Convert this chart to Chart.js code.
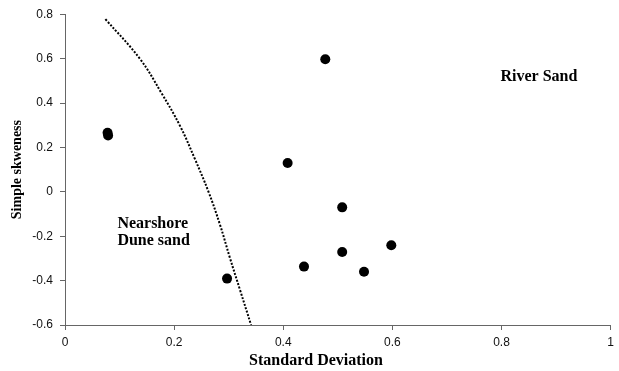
<!DOCTYPE html>
<html>
<head>
<meta charset="utf-8">
<script src="https://cdn.jsdelivr.net/npm/chart.js@4/dist/chart.umd.min.js"></script>
<style>
  html, body { margin: 0; padding: 0; background: #ffffff; }
  #wrap { width: 619px; height: 371px; }
</style>
</head>
<body>
<div id="wrap"><canvas id="c" width="619" height="371"></canvas></div>
<script>
// ---- data ----
const sdValues   = [0.078, 0.079, 0.477, 0.408, 0.508, 0.598, 0.508, 0.438, 0.548, 0.297];
const skewValues = [0.266, 0.254, 0.597, 0.130, -0.070, -0.241, -0.271, -0.337, -0.360, -0.391];

const boundaryX = [0.074, 0.137, 0.177, 0.211, 0.238, 0.263, 0.284, 0.302, 0.321, 0.341];
const boundaryY = [0.778, 0.600, 0.444, 0.296, 0.148, 0.000, -0.148, -0.296, -0.444, -0.600];

const xTicks = [0, 0.2, 0.4, 0.6, 0.8, 1];
const yTicks = [-0.6, -0.4, -0.2, 0, 0.2, 0.4, 0.6, 0.8];

const xTitle = 'Standard Deviation';
const yTitle = 'Simple skweness';

const annotations = [
  { text: 'River Sand', x: 0.798, y: 0.52 },
  { text: 'Nearshore', x: 0.096, y: -0.145 },
  { text: 'Dune sand', x: 0.096, y: -0.222 }
];

// ---- build ----
const points = sdValues.map((v, i) => ({ x: v, y: skewValues[i] }));
const boundary = boundaryX.map((v, i) => ({ x: v, y: boundaryY[i] }));

const textPlugin = {
  id: 'texts',
  afterDraw(chart) {
    const ctx = chart.ctx;
    const xs = chart.scales.x, ys = chart.scales.y;
    const ca = chart.chartArea;
    ctx.save();
    ctx.fillStyle = '#000';
    ctx.font = 'bold 16px "Liberation Serif", "Times New Roman", serif';
    ctx.textBaseline = 'middle';
    ctx.textAlign = 'left';
    annotations.forEach(a => {
      ctx.fillText(a.text, xs.getPixelForValue(a.x), ys.getPixelForValue(a.y));
    });
    // axis titles
    ctx.textAlign = 'center';
    ctx.fillText(xTitle, ca.left + (ca.right - ca.left) * 0.46, 361);
    ctx.font = 'bold 14px "Liberation Serif", "Times New Roman", serif';
    ctx.translate(17, (ca.top + ca.bottom) / 2);
    ctx.rotate(-Math.PI / 2);
    ctx.fillText(yTitle, 0, 0);
    ctx.restore();
  }
};

new Chart(document.getElementById('c'), {
  type: 'scatter',
  data: {
    datasets: [
      {
        label: 'boundary',
        data: boundary,
        showLine: true,
        pointRadius: 0,
        borderColor: '#000',
        borderWidth: 2,
        borderDash: [2, 1.6],
        tension: 0.4,
        fill: false
      },
      {
        label: 'samples',
        data: points,
        pointRadius: 5,
        pointBackgroundColor: '#000',
        pointBorderColor: '#000',
        pointBorderWidth: 0,
        showLine: false
      }
    ]
  },
  options: {
    responsive: false,
    animation: false,
    devicePixelRatio: 1,
    layout: { padding: { top: 10, right: 8, left: 0, bottom: 0 } },
    plugins: { legend: { display: false }, tooltip: { enabled: false }, title: { display: false } },
    scales: {
      x: {
        type: 'linear',
        min: 0, max: 1,
        afterFit: s => { s.height = 46; },
        afterBuildTicks: s => { s.ticks = xTicks.map(v => ({ value: v })); },
        ticks: {
          color: '#111',
          font: { family: '"Liberation Sans", Arial, sans-serif', size: 12 },
          padding: 5,
          maxRotation: 0,
          callback: v => String(v)
        },
        grid: { drawOnChartArea: false, drawTicks: true, tickLength: 5, color: '#666', lineWidth: 1 },
        border: { display: true, color: '#666', width: 1 }
      },
      y: {
        type: 'linear',
        min: -0.6, max: 0.8,
        afterFit: s => { s.width = 65; },
        afterBuildTicks: s => { s.ticks = yTicks.map(v => ({ value: v })); },
        ticks: {
          color: '#111',
          font: { family: '"Liberation Sans", Arial, sans-serif', size: 12 },
          padding: 7,
          callback: v => String(Math.round(v * 10) / 10)
        },
        grid: { drawOnChartArea: false, drawTicks: true, tickLength: 5, color: '#666', lineWidth: 1 },
        border: { display: true, color: '#666', width: 1 }
      }
    }
  },
  plugins: [textPlugin]
});
</script>
</body>
</html>
